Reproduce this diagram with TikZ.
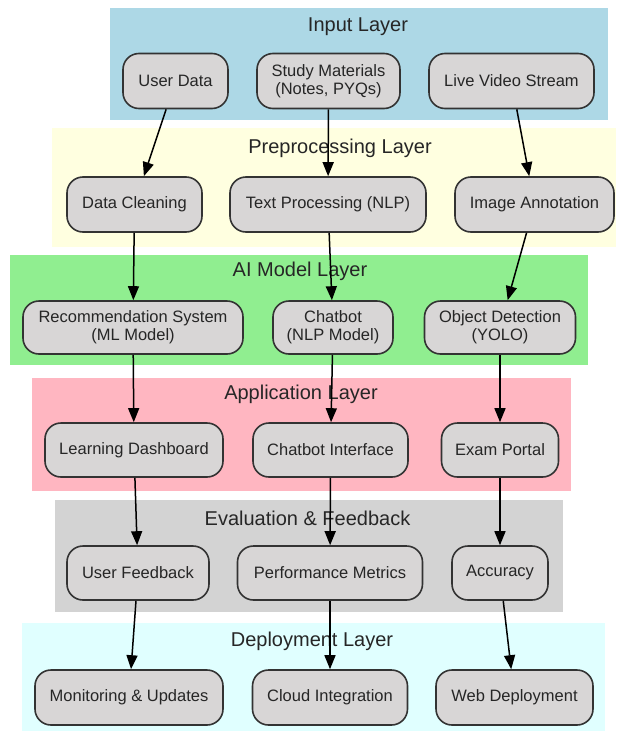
\documentclass[tikz,border=0pt]{standalone}
\usepackage{fontspec}
\setmainfont{Liberation Sans}
\usetikzlibrary{arrows.meta}
\definecolor{celeste}{HTML}{ADD8E6}
\definecolor{amarillo}{HTML}{FFFFE0}
\definecolor{verde}{HTML}{90EE90}
\definecolor{rosa}{HTML}{FFB6C1}
\definecolor{plomo}{HTML}{D3D3D3}
\definecolor{cian}{HTML}{E0FFFF}
\definecolor{gris}{HTML}{D8D6D6}
\begin{document}
\begin{tikzpicture}[x=1pt,y=-1pt]
% estilos de linea y relleno
\tikzstyle{caja} = [draw=black!80, line width=1.6pt, fill=gris, rounded corners=16pt, align=center, text=black!85, font=\fontsize{16.5}{18}\selectfont, inner sep=0pt]
\tikzstyle{flecha} = [line width=1.5pt, -{Triangle[length=14pt,width=11pt]}]
\tikzstyle{titulo} = [font=\fontsize{20}{24}\selectfont, text=black!85]
% marco del dibujo
\useasboundingbox (0,0) rectangle (616,731);
% definicion de capa
% #1: nombre del titulo
% #2: esquina superior izquierda
% #3: esquina inferior derecha
% #4: color de relleno
% #5: ubicacion del titulo
% #6: texto del titulo
\newcommand{\capa}[6]{
\fill [#4] #2 rectangle #3;
\node [titulo] (#1) at #5 {#6};
 }
% definicion de caja
% #1: nombre del nodo
% #2: ubicacion del nodo
% #3: ancho de la caja
% #4: alto de la caja
% #5: texto de la caja
\newcommand{\caja}[5]{
\node [caja, minimum width=#3, minimum height=#4] (#1) at #2 {#5};
 }
% dibujar capas
\capa{tin}{(110,8)}{(608,120)}{celeste}{(358,27)}{Input Layer}
\capa{tpre}{(52,128)}{(616,247)}{amarillo}{(340,148)}{Preprocessing Layer}
\capa{tmod}{(10,255)}{(588,365)}{verde}{(300,271)}{AI Model Layer}
\capa{tapl}{(32,378)}{(571,491)}{rosa}{(301,394)}{Application Layer}
\capa{teva}{(55,500)}{(563,612)}{plomo}{(307.5,518)}{Evaluation \& Feedback}
\capa{tdes}{(22,623)}{(605,731)}{cian}{(312,641)}{Deployment Layer}
% dibujar cajas
\caja{ud}{(175.5,81)}{105pt}{55pt}{User Data}
\caja{sm}{(328.5,81)}{143pt}{55pt}{Study Materials\\(Notes, PYQs)}
\caja{lv}{(511.5,81)}{165pt}{55pt}{Live Video Stream}
\caja{dc}{(134.5,204.5)}{135pt}{55pt}{Data Cleaning}
\caja{tp}{(328,204.5)}{196pt}{55pt}{Text Processing (NLP)}
\caja{ia}{(534.5,204.5)}{159pt}{55pt}{Image Annotation}
\caja{rs}{(133,327.5)}{220pt}{53pt}{Recommendation System\\(ML Model)}
\caja{cb}{(333,327.5)}{120pt}{53pt}{Chatbot\\(NLP Model)}
\caja{od}{(500,327.5)}{151pt}{53pt}{Object Detection\\(YOLO)}
\caja{ld}{(134,450)}{178pt}{54pt}{Learning Dashboard}
\caja{ci}{(330.5,450)}{155pt}{54pt}{Chatbot Interface}
\caja{ep}{(500,450)}{117pt}{54pt}{Exam Portal}
\caja{uf}{(138,573)}{142pt}{54pt}{User Feedback}
\caja{pm}{(330,573)}{185pt}{54pt}{Performance Metrics}
\caja{ac}{(500,573)}{96pt}{54pt}{Accuracy}
\caja{mu}{(129,697.5)}{188pt}{55pt}{Monitoring \& Updates}
\caja{cl}{(330,697.5)}{155pt}{55pt}{Cloud Integration}
\caja{wd}{(514.5,697.5)}{157pt}{55pt}{Web Deployment}
% dibujar flechas
\draw[flecha] (ud) -- (dc);
\draw[flecha] (sm) -- (tp);
\draw[flecha] (lv) -- (ia);
\draw[flecha] (dc) -- (rs);
\draw[flecha] (tp) -- (cb);
\draw[flecha] (ia) -- (od);
\draw[flecha] (rs) -- (ld);
\draw[flecha] (cb) -- (ci);
\draw[flecha] (od) -- (ep);
\draw[flecha] (ld) -- (uf);
\draw[flecha] (ci) -- (pm);
\draw[flecha] (ep) -- (ac);
\draw[flecha] (uf) -- (mu);
\draw[flecha] (pm) -- (cl);
\draw[flecha] (ac) -- (wd);
\end{tikzpicture}
\end{document}
